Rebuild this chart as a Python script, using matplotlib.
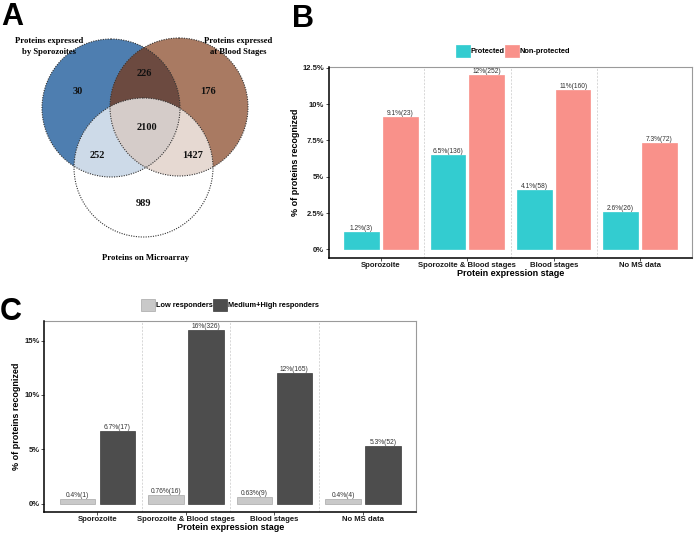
import matplotlib
matplotlib.use('Agg')
import matplotlib.pyplot as plt
from matplotlib.patches import Circle, Patch
import numpy as np

W, H = 696, 533
fig = plt.figure(figsize=(W / 100, H / 100), dpi=100)
SANS = ['Liberation Sans', 'DejaVu Sans']
SERIF = ['Liberation Serif', 'DejaVu Serif']


def rect(l, t, r, b):
    return [l / W, 1 - b / H, (r - l) / W, (b - t) / H]


# ---------------- data ----------------
venn_set_labels = ["Proteins expressed\nby Sporozoites",
                   "Proteins expressed\nat Blood Stages",
                   "Proteins on Microarray"]
venn_region_names = ["S", "SB", "B", "SBM", "SM", "BM", "M"]
venn_region_counts = [30, 226, 176, 2100, 252, 1427, 989]

stages = ["Sporozoite", "Sporozoite & Blood stages", "Blood stages", "No MS data"]

protected_pct = [1.2, 6.5, 4.1, 2.6]
protected_lab = ["1.2%(3)", "6.5%(136)", "4.1%(58)", "2.6%(26)"]
nonprotected_pct = [9.1, 12, 11, 7.3]
nonprotected_lab = ["9.1%(23)", "12%(252)", "11%(160)", "7.3%(72)"]
b_ticks = [0, 2.5, 5, 7.5, 10, 12.5]
b_ticklabels = ["0%", "2.5%", "5%", "7.5%", "10%", "12.5%"]

low_pct = [0.4, 0.76, 0.63, 0.4]
low_lab = ["0.4%(1)", "0.76%(16)", "0.63%(9)", "0.4%(4)"]
high_pct = [6.7, 16, 12, 5.3]
high_lab = ["6.7%(17)", "16%(326)", "12%(165)", "5.3%(52)"]
c_ticks = [0, 5, 10, 15]
c_ticklabels = ["0%", "5%", "10%", "15%"]

# ---------------- panel A: Venn ----------------
axA = fig.add_axes(rect(0, 0, 290, 270))
axA.set_xlim(0, 290)
axA.set_ylim(270, 0)
axA.axis('off')

c_spo = (111, 108, 69)
c_blood = (179, 107, 69)
c_micro = (143.5, 167.5, 69.5)
blue = '#4E7EB0'
brown = '#A97A62'
dark = '#6C4A40'

p_spo = Circle(c_spo[:2], c_spo[2], facecolor=blue, edgecolor='none', zorder=1)
p_blood = Circle(c_blood[:2], c_blood[2], facecolor=brown, edgecolor='none', zorder=1)
axA.add_patch(p_spo)
axA.add_patch(p_blood)
p_ov = Circle(c_spo[:2], c_spo[2], facecolor=dark, edgecolor='none', zorder=2)
axA.add_patch(p_ov)
p_ov.set_clip_path(p_blood)
p_micro = Circle(c_micro[:2], c_micro[2], facecolor='white', alpha=0.72,
                 edgecolor='none', zorder=3)
axA.add_patch(p_micro)
for c in (c_spo, c_blood, c_micro):
    axA.add_patch(Circle(c[:2], c[2], facecolor='none', edgecolor='#333333',
                         linestyle=(0, (1, 1.2)), linewidth=0.8, zorder=4))

region_pos = {"S": (78, 92), "SB": (144, 73), "B": (208, 92), "SBM": (147, 128),
              "SM": (97, 156), "BM": (193, 156), "M": (144, 203)}
for name, cnt in zip(venn_region_names, venn_region_counts):
    x, y = region_pos[name]
    axA.text(x, y, str(cnt), ha='center', va='center', fontsize=7.5,
             fontweight='bold', family=SERIF, color='#111111', zorder=5)

axA.text(49, 46.5, venn_set_labels[0], ha='center', va='center', fontsize=6.2,
         fontweight='bold', family=SERIF, linespacing=1.45, zorder=5)
axA.text(238, 46.5, venn_set_labels[1], ha='center', va='center', fontsize=6.2,
         fontweight='bold', family=SERIF, linespacing=1.45, zorder=5)
axA.text(145, 258, venn_set_labels[2], ha='center', va='center', fontsize=6.2,
         fontweight='bold', family=SERIF, zorder=5)


# ---------------- bar panel helper ----------------
def bar_panel(box, v1, l1, v2, l2, col1, col2, ec1, ec2, ticks, ticklabels,
              ylim, names, leg_center, ylab_x):
    ax = fig.add_axes(rect(*box))
    x = np.arange(1, len(stages) + 1)
    ax.bar(x - 0.225, v1, width=0.4, color=col1, edgecolor=ec1, linewidth=0.5, zorder=2)
    ax.bar(x + 0.225, v2, width=0.4, color=col2, edgecolor=ec2, linewidth=0.5, zorder=2)
    for xi, v, t in zip(x - 0.225, v1, l1):
        ax.text(xi, v, t, ha='center', va='bottom', fontsize=4.8,
                family=SANS, color='#333333', zorder=3)
    for xi, v, t in zip(x + 0.225, v2, l2):
        ax.text(xi, v, t, ha='center', va='bottom', fontsize=4.8,
                family=SANS, color='#333333', zorder=3)
    for sep in x[:-1] + 0.5:
        ax.axvline(sep, color='#C8C8C8', linestyle=(0, (3, 2)), linewidth=0.5, zorder=1)
    ax.set_xlim(0.4, 4.6)
    ax.set_ylim(*ylim)
    ax.set_xticks(x)
    ax.set_xticklabels(stages, fontsize=5.6, fontweight='bold', family=SANS, color='#1A1A1A')
    ax.set_yticks(ticks)
    ax.set_yticklabels(ticklabels, fontsize=5.5, fontweight='bold', family=SANS, color='#1A1A1A')
    ax.tick_params(length=2.5, width=0.6, color='#333333', pad=1.0)
    ax.tick_params(axis='x', pad=0.3)
    for s in ('top', 'right'):
        ax.spines[s].set_color('#9A9A9A')
        ax.spines[s].set_linewidth(0.8)
    for s in ('left', 'bottom'):
        ax.spines[s].set_color('black')
        ax.spines[s].set_linewidth(1.1)
        ax.spines[s].set_zorder(4)
    ax.set_xlabel("Protein expression stage", fontsize=6.5, fontweight='bold', family=SANS)
    ax.set_ylabel("% of proteins recognized", fontsize=6.5, fontweight='bold', family=SANS)
    l, t, r, b = box
    ax.xaxis.set_label_coords(0.5, -11.0 / (b - t))
    ax.yaxis.set_label_coords((ylab_x - l) / (r - l), 0.5)
    handles = [Patch(facecolor=col1, edgecolor=ec1, linewidth=0.5),
               Patch(facecolor=col2, edgecolor=ec2, linewidth=0.5)]
    fig.legend(handles, names, loc='center',
               bbox_to_anchor=(leg_center[0] / W, 1 - leg_center[1] / H),
               ncol=2, frameon=False, handlelength=1.9, handleheight=2.0,
               handletextpad=0.05, columnspacing=0.1, borderpad=0,
               prop={'family': SANS, 'weight': 'bold', 'size': 5.3})
    return ax


teal = '#33CCD0'
salmon = '#F9918A'
bar_panel((329, 66.5, 692, 258), protected_pct, protected_lab,
          nonprotected_pct, nonprotected_lab, teal, salmon, teal, salmon,
          b_ticks, b_ticklabels, (-0.6, 12.6), ["Protected", "Non-protected"],
          (513, 51), 299.5)

bar_panel((44.3, 321, 416, 512.3), low_pct, low_lab, high_pct, high_lab,
          '#C9C9C9', '#4D4D4D', '#A8A8A8', '#3A3A3A',
          c_ticks, c_ticklabels, (-0.8, 16.8),
          ["Low responders", "Medium+High responders"], (230, 305), 21)

# panel letters
fig.text(1 / W, 1 - 25 / H, "A", fontsize=22, fontweight='bold', family=SANS, va='baseline')
fig.text(292 / W, 1 - 27 / H, "B", fontsize=22, fontweight='bold', family=SANS, va='baseline')
fig.text(0 / W, 1 - 320 / H, "C", fontsize=22, fontweight='bold', family=SANS, va='baseline')

fig.savefig('out.png', dpi=100)
